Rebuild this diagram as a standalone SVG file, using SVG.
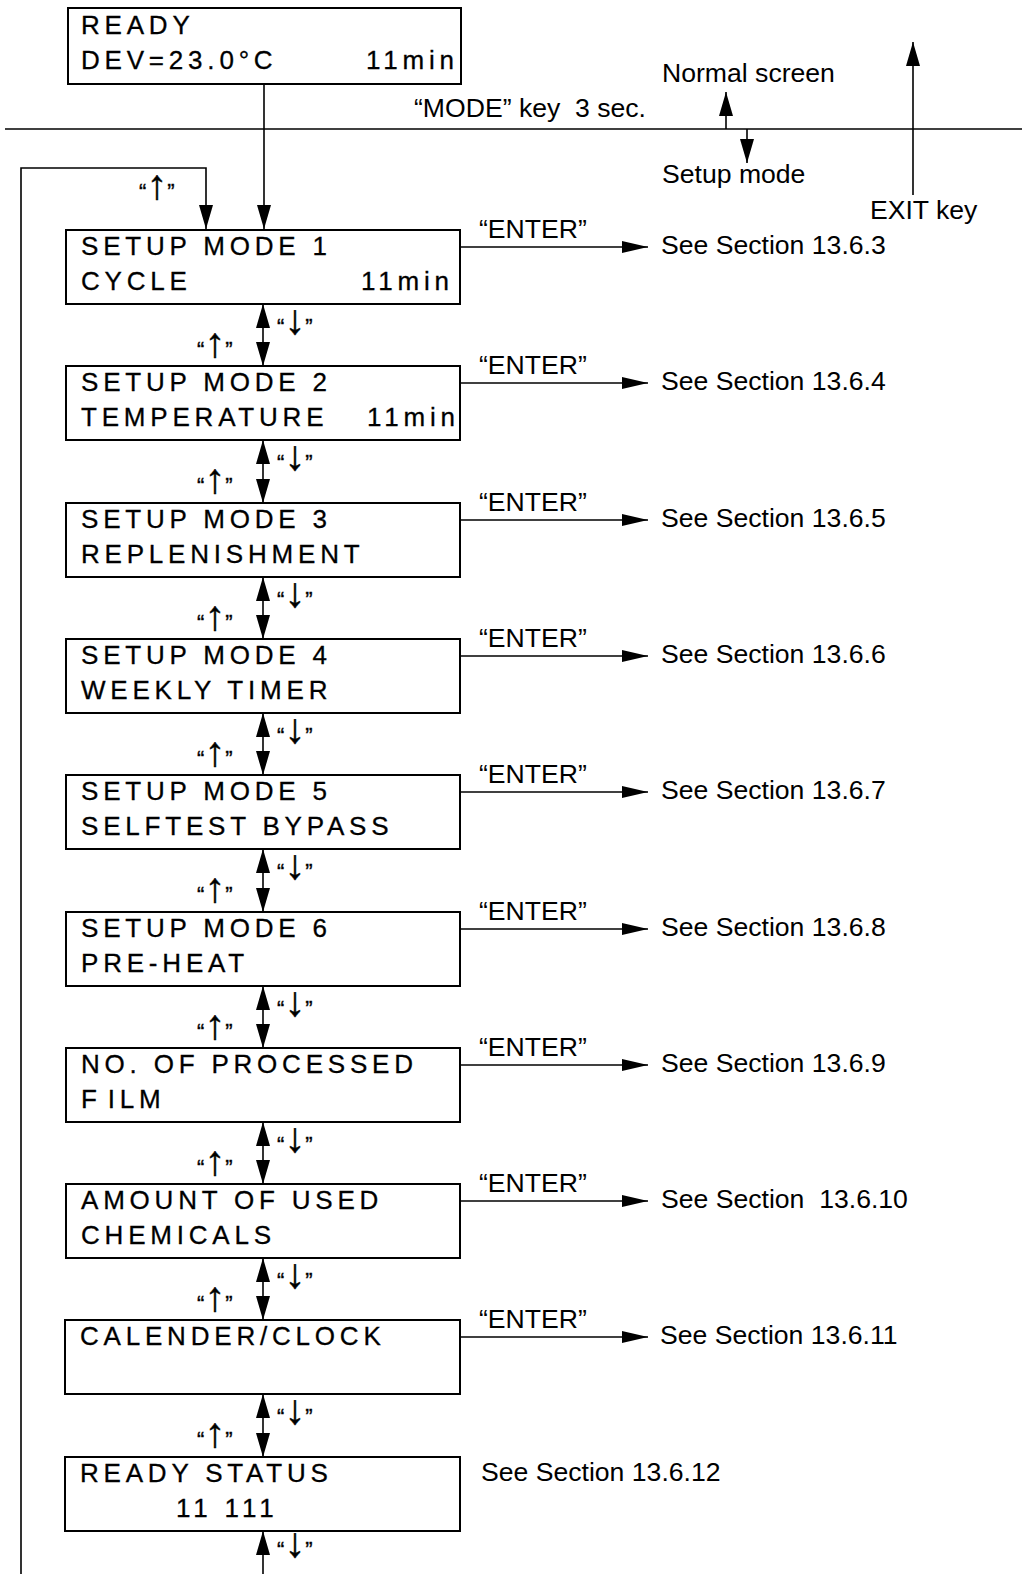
<svg xmlns="http://www.w3.org/2000/svg" width="1022" height="1574" viewBox="0 0 1022 1574">
<style>
.box{fill:#fff;stroke:#000;stroke-width:2}
.ln{fill:none;stroke:#000;stroke-width:1.6}
.lcd{font-family:"Liberation Sans",Arial,sans-serif;font-size:26px;letter-spacing:4.8px;fill:#000;stroke:#000;stroke-width:0.3}
.lbl{font-family:"Liberation Sans",Arial,sans-serif;font-size:26.6px;fill:#000;white-space:pre}
.key{font-family:"Liberation Sans","DejaVu Sans",sans-serif;font-size:22px;fill:#000;stroke:#000;stroke-width:0.4}
.ar{font-size:42px}
</style>
<defs>
<marker id="ah" viewBox="0 0 24 14" refX="24" refY="7" markerWidth="24" markerHeight="14" markerUnits="userSpaceOnUse" orient="auto-start-reverse"><path d="M0,0 L24,7 L0,14 z" fill="#000"/></marker>
<marker id="ae" viewBox="0 0 26 12" refX="26" refY="6" markerWidth="26" markerHeight="12" markerUnits="userSpaceOnUse" orient="auto"><path d="M0,0 L26,6 L0,12 z" fill="#000"/></marker>
</defs>
<rect x="0" y="0" width="1022" height="1574" fill="#fff"/>

<g id="connectors">
<line class="ln" x1="5" y1="129" x2="1022" y2="129"/>
<line class="ln" x1="264" y1="84" x2="264" y2="229" marker-end="url(#ah)"/>
<polyline class="ln" points="21,1574 21,168 206,168 206,229" marker-end="url(#ah)"/>
<line class="ln" x1="726" y1="129" x2="726" y2="92" marker-end="url(#ah)"/>
<line class="ln" x1="747" y1="129" x2="747" y2="163" marker-end="url(#ah)"/>
<line class="ln" x1="913" y1="195" x2="913" y2="42" marker-end="url(#ah)"/>
<line class="ln" x1="460" y1="247" x2="648" y2="247" marker-end="url(#ae)"/>
<line class="ln" x1="460" y1="383" x2="648" y2="383" marker-end="url(#ae)"/>
<line class="ln" x1="460" y1="520" x2="648" y2="520" marker-end="url(#ae)"/>
<line class="ln" x1="460" y1="656" x2="648" y2="656" marker-end="url(#ae)"/>
<line class="ln" x1="460" y1="792" x2="648" y2="792" marker-end="url(#ae)"/>
<line class="ln" x1="460" y1="929" x2="648" y2="929" marker-end="url(#ae)"/>
<line class="ln" x1="460" y1="1065" x2="648" y2="1065" marker-end="url(#ae)"/>
<line class="ln" x1="460" y1="1201" x2="648" y2="1201" marker-end="url(#ae)"/>
<line class="ln" x1="460" y1="1337" x2="648" y2="1337" marker-end="url(#ae)"/>
<line class="ln" x1="263" y1="304" x2="263" y2="366" marker-start="url(#ah)" marker-end="url(#ah)"/>
<line class="ln" x1="263" y1="440" x2="263" y2="503" marker-start="url(#ah)" marker-end="url(#ah)"/>
<line class="ln" x1="263" y1="577" x2="263" y2="639" marker-start="url(#ah)" marker-end="url(#ah)"/>
<line class="ln" x1="263" y1="713" x2="263" y2="775" marker-start="url(#ah)" marker-end="url(#ah)"/>
<line class="ln" x1="263" y1="849" x2="263" y2="912" marker-start="url(#ah)" marker-end="url(#ah)"/>
<line class="ln" x1="263" y1="986" x2="263" y2="1048" marker-start="url(#ah)" marker-end="url(#ah)"/>
<line class="ln" x1="263" y1="1122" x2="263" y2="1184" marker-start="url(#ah)" marker-end="url(#ah)"/>
<line class="ln" x1="263" y1="1258" x2="263" y2="1320" marker-start="url(#ah)" marker-end="url(#ah)"/>
<line class="ln" x1="263" y1="1394" x2="263" y2="1457" marker-start="url(#ah)" marker-end="url(#ah)"/>
<line class="ln" x1="263" y1="1574" x2="263" y2="1531" marker-end="url(#ah)"/>
</g>

<g id="labels">
<text class="lbl" x="414" y="117">“MODE” key  3 sec.</text>
<text class="lbl" x="662" y="82">Normal screen</text>
<text class="lbl" x="662" y="183">Setup mode</text>
<text class="lbl" x="870" y="219">EXIT key</text>
<text class="key" x="139" y="199">“<tspan class="ar">↑</tspan>”</text>
<text class="lbl" x="479" y="238">“ENTER”</text>
<text class="lbl" x="479" y="374">“ENTER”</text>
<text class="lbl" x="479" y="511">“ENTER”</text>
<text class="lbl" x="479" y="647">“ENTER”</text>
<text class="lbl" x="479" y="783">“ENTER”</text>
<text class="lbl" x="479" y="920">“ENTER”</text>
<text class="lbl" x="479" y="1056">“ENTER”</text>
<text class="lbl" x="479" y="1192">“ENTER”</text>
<text class="lbl" x="479" y="1328">“ENTER”</text>
<text class="lbl" x="661" y="254">See Section 13.6.3</text>
<text class="lbl" x="661" y="390">See Section 13.6.4</text>
<text class="lbl" x="661" y="527">See Section 13.6.5</text>
<text class="lbl" x="661" y="663">See Section 13.6.6</text>
<text class="lbl" x="661" y="799">See Section 13.6.7</text>
<text class="lbl" x="661" y="936">See Section 13.6.8</text>
<text class="lbl" x="661" y="1072">See Section 13.6.9</text>
<text class="lbl" x="661" y="1208">See Section  13.6.10</text>
<text class="lbl" x="660" y="1344">See Section 13.6.11</text>
<text class="lbl" x="481" y="1481">See Section 13.6.12</text>
<text class="key" x="277" y="334">“<tspan class="ar">↓</tspan>”</text><text class="key" x="197" y="357">“<tspan class="ar">↑</tspan>”</text>
<text class="key" x="277" y="470">“<tspan class="ar">↓</tspan>”</text><text class="key" x="197" y="493">“<tspan class="ar">↑</tspan>”</text>
<text class="key" x="277" y="607">“<tspan class="ar">↓</tspan>”</text><text class="key" x="197" y="630">“<tspan class="ar">↑</tspan>”</text>
<text class="key" x="277" y="743">“<tspan class="ar">↓</tspan>”</text><text class="key" x="197" y="766">“<tspan class="ar">↑</tspan>”</text>
<text class="key" x="277" y="879">“<tspan class="ar">↓</tspan>”</text><text class="key" x="197" y="902">“<tspan class="ar">↑</tspan>”</text>
<text class="key" x="277" y="1016">“<tspan class="ar">↓</tspan>”</text><text class="key" x="197" y="1039">“<tspan class="ar">↑</tspan>”</text>
<text class="key" x="277" y="1152">“<tspan class="ar">↓</tspan>”</text><text class="key" x="197" y="1175">“<tspan class="ar">↑</tspan>”</text>
<text class="key" x="277" y="1288">“<tspan class="ar">↓</tspan>”</text><text class="key" x="197" y="1311">“<tspan class="ar">↑</tspan>”</text>
<text class="key" x="277" y="1424">“<tspan class="ar">↓</tspan>”</text><text class="key" x="197" y="1447">“<tspan class="ar">↑</tspan>”</text>
<text class="key" x="277" y="1557">“<tspan class="ar">↓</tspan>”</text>
</g>

<g id="ready">
<rect class="box" x="68" y="8" width="393" height="76"/>
<text class="lcd" x="81" y="34">READY</text>
<text class="lcd" x="81" y="69">DEV=23.0°C<tspan x="366">11min</tspan></text>
</g>
<g id="mode1">
<rect class="box" x="66" y="230" width="394" height="74"/>
<text class="lcd" x="81" y="255">SETUP MODE 1</text>
<text class="lcd" x="81" y="290">CYCLE<tspan x="361">11min</tspan></text>
</g>
<g id="mode2">
<rect class="box" x="66" y="366" width="394" height="74"/>
<text class="lcd" x="81" y="391">SETUP MODE 2</text>
<text class="lcd" x="81" y="426">TEMPERATURE<tspan x="367">11min</tspan></text>
</g>
<g id="mode3">
<rect class="box" x="66" y="503" width="394" height="74"/>
<text class="lcd" x="81" y="528">SETUP MODE 3</text>
<text class="lcd" x="81" y="563">REPLENISHMENT</text>
</g>
<g id="mode4">
<rect class="box" x="66" y="639" width="394" height="74"/>
<text class="lcd" x="81" y="664">SETUP MODE 4</text>
<text class="lcd" x="81" y="699">WEEKLY TIMER</text>
</g>
<g id="mode5">
<rect class="box" x="66" y="775" width="394" height="74"/>
<text class="lcd" x="81" y="800">SETUP MODE 5</text>
<text class="lcd" x="81" y="835">SELFTEST BYPASS</text>
</g>
<g id="mode6">
<rect class="box" x="66" y="912" width="394" height="74"/>
<text class="lcd" x="81" y="937">SETUP MODE 6</text>
<text class="lcd" x="81" y="972">PRE-HEAT</text>
</g>
<g id="film">
<rect class="box" x="66" y="1048" width="394" height="74"/>
<text class="lcd" x="81" y="1073">NO. OF PROCESSED</text>
<text class="lcd" x="81" y="1108">F<tspan dx="6">ILM</tspan></text>
</g>
<g id="chem">
<rect class="box" x="66" y="1184" width="394" height="74"/>
<text class="lcd" x="81" y="1209">AMOUNT OF USED</text>
<text class="lcd" x="81" y="1244">CHEMICALS</text>
</g>
<g id="clock">
<rect class="box" x="65" y="1320" width="395" height="74"/>
<text class="lcd" x="80" y="1345">CALENDER/CLOCK</text>
</g>
<g id="status">
<rect class="box" x="65" y="1457" width="395" height="74"/>
<text class="lcd" x="80" y="1482">READY STATUS</text>
<text class="lcd" x="176" y="1517">11 111</text>
</g>
</svg>
